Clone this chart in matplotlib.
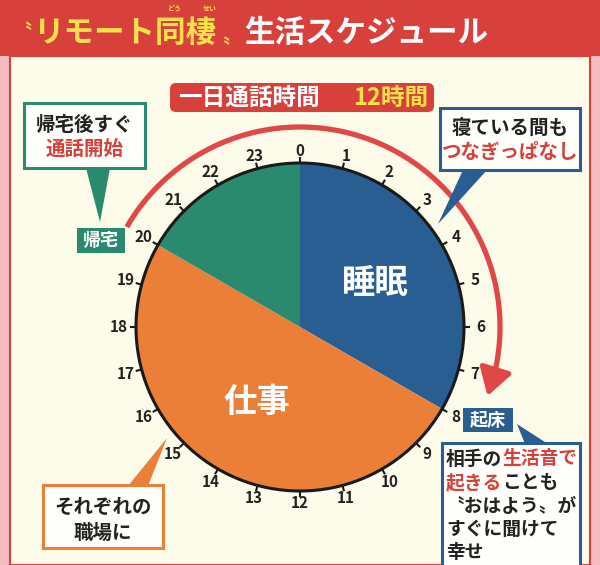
import numpy as np
import matplotlib
matplotlib.use('Agg')
import matplotlib.pyplot as plt
from matplotlib.patches import Rectangle, FancyBboxPatch, Polygon, Circle

plt.rcParams['font.family'] = ['Noto Sans CJK JP', 'DejaVu Sans']

# data: one day, by hour
activities = ['睡眠', '仕事', '帰宅']
start_hours = [0, 8, 20]
durations = [8, 12, 4]
slice_labels = ['睡眠', '仕事', '']
hours = list(range(24))
call_start = 20       # 帰宅
call_end = 7.4        # arrow tip, just before 起床 at 8
call_total = '12時間'

# colours
BLUE = '#285e92'
ORANGE = '#ec7f38'
GREEN = '#2a8a6d'
RED = '#d8403b'
YELLOW = '#f7e04b'
CREAM = '#fdfbea'
PINK = '#f4bcc0'

W, H = 600, 565
fig = plt.figure(figsize=(6, 5.65), dpi=100, facecolor=PINK)
ax = fig.add_axes([0, 0, 1, 1])


def Y(y):
    # image row -> axis y
    return H - y


def jtext(x, y, s, size, color='#222222', ha='center', **kw):
    ax.text(x, Y(y), s, fontsize=size, color=color, ha=ha, va='center',
            fontweight='bold', **kw)


# background panel and title band
ax.add_patch(Rectangle((10, 0), 580, Y(56), facecolor=CREAM, edgecolor=RED, lw=1.5))
ax.add_patch(Rectangle((0, Y(56)), 600, 56, facecolor=RED, edgecolor='none'))

jtext(12, 33, '〝', 14, YELLOW, ha='left')
jtext(33, 33, 'リモート同棲', 22, YELLOW, ha='left')
jtext(175, 8, 'どう', 5, YELLOW)
jtext(210, 8, 'せい', 5, YELLOW)
jtext(222, 38, '〟', 14, YELLOW, ha='left')
jtext(244, 33, '生活スケジュール', 22, 'white', ha='left')

# clock pie
cx, cy, r = 300, 327, 164
wedges, _ = ax.pie(durations, colors=[BLUE, ORANGE, GREEN], startangle=90,
                   counterclock=False, center=(cx, Y(cy)), radius=r,
                   wedgeprops=dict(linewidth=0))
ax.add_patch(Circle((cx, Y(cy)), r, fill=False, edgecolor='#1a1a1a', lw=2.2))

for s, d, lab in zip(start_hours, durations, slice_labels):
    if not lab:
        continue
    th = np.deg2rad((s + d / 2) * 15)
    jtext(cx + 0.53 * r * np.sin(th), cy - 0.53 * r * np.cos(th), lab, 24, 'white')

for h in hours:
    th = np.deg2rad(h * 15)
    sx, cxs = np.sin(th), np.cos(th)
    ax.plot([cx + r * sx, cx + (r + 5) * sx], [Y(cy - r * cxs), Y(cy - (r + 5) * cxs)],
            color='#1a1a1a', lw=1.5)
    rl = r + 12 + 5 * abs(sx)
    jtext(cx + rl * sx, cy - rl * cxs, str(h), 11, '#222222')

# call arc: from 帰宅 (20) round through 0 to 起床 (8)
R = 200
th = np.deg2rad(np.linspace(call_start * 15, 360 + call_end * 15 - 6, 200))
ax.plot(cx + R * np.sin(th), Y(cy - R * np.cos(th)), color='#e04848', lw=3.8,
        solid_capstyle='butt')
t0, t1 = np.deg2rad(360 + call_end * 15 - 8), np.deg2rad(360 + call_end * 15)
ax.annotate('', xy=(cx + R * np.sin(t1), Y(cy - R * np.cos(t1))),
            xytext=(cx + R * np.sin(t0), Y(cy - R * np.cos(t0))),
            arrowprops=dict(arrowstyle='-|>,head_length=0.9,head_width=0.55',
                            color='#e04848', lw=3.8, mutation_scale=18))

# total talk time banner
ax.add_patch(FancyBboxPatch((170, Y(112)), 264, 29, boxstyle='round,pad=0,rounding_size=6',
                            facecolor=RED, edgecolor='none'))
jtext(178, 98, '一日通話時間', 17, 'white', ha='left')
jtext(428, 98, call_total, 17, YELLOW, ha='right')


def callout(x0, y0, x1, y1, edge, lw=2.2):
    ax.add_patch(Rectangle((x0, Y(y1)), x1 - x0, y1 - y0, facecolor='#fefefa',
                           edgecolor=edge, lw=lw, zorder=3))


def pointer(pts, color):
    ax.add_patch(Polygon([(x, Y(y)) for x, y in pts], closed=True,
                         facecolor=color, edgecolor='none', zorder=2))


def tag(x0, y0, x1, y1, color, s):
    ax.add_patch(Rectangle((x0, Y(y1)), x1 - x0, y1 - y0, facecolor=color,
                           edgecolor='none', zorder=3))
    ax.text((x0 + x1) / 2, Y((y0 + y1) / 2), s, fontsize=13, color='white',
            ha='center', va='center', fontweight='bold', zorder=4)


# 帰宅
pointer([(86, 168), (110, 168), (100, 222)], GREEN)
callout(24, 103, 145, 168, GREEN)
ax.text(85, Y(125), '帰宅後すぐ', fontsize=14, color='#222222', ha='center',
        va='center', fontweight='bold', zorder=4)
ax.text(85, Y(150), '通話開始', fontsize=14, color=RED, ha='center',
        va='center', fontweight='bold', zorder=4)
tag(77, 228, 125, 253, GREEN, '帰宅')

# 睡眠
pointer([(463, 170), (487, 170), (438, 224)], BLUE)
callout(440, 108, 580, 170, BLUE)
ax.text(510, Y(128), '寝ている間も', fontsize=14, color='#222222', ha='center',
        va='center', fontweight='bold', zorder=4)
ax.text(510, Y(152), 'つなぎっぱなし', fontsize=14, color=RED, ha='center',
        va='center', fontweight='bold', zorder=4)

# 起床
tag(463, 408, 513, 432, BLUE, '起床')
pointer([(517, 424), (525, 444), (548, 444)], BLUE)
callout(442, 443, 580, 575, BLUE)
fs = 13.5
cw = fs * 100 / 72
lines = [[('相手の', '#222222'), ('生活音で', RED)],
         [('起きる', RED), ('ことも', '#222222')],
         [('〝おはよう〟が', '#222222')],
         [('すぐに聞けて', '#222222')],
         [('幸せ', '#222222')]]
for i, segs in enumerate(lines):
    x = 446
    for s, c in segs:
        ax.text(x, Y(459 + i * 23.5), s, fontsize=fs, color=c, ha='left',
                va='center', fontweight='bold', zorder=4)
        x += len(s) * cw

# 仕事
pointer([(128, 486), (148, 486), (167, 438)], ORANGE)
callout(43, 485, 163, 548, ORANGE)
ax.text(103, Y(507), 'それぞれの', fontsize=14, color='#222222', ha='center',
        va='center', fontweight='bold', zorder=4)
ax.text(103, Y(533), '職場に', fontsize=14, color='#222222', ha='center',
        va='center', fontweight='bold', zorder=4)

ax.set_xlim(0, W)
ax.set_ylim(0, H)
ax.set_aspect('equal')
ax.axis('off')

fig.savefig('out.png', dpi=100, facecolor=PINK)
